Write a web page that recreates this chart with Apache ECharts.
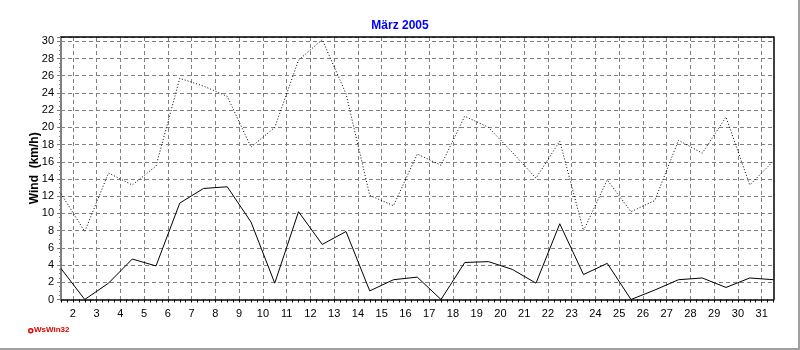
<!DOCTYPE html>
<html>
<head>
<meta charset="utf-8">
<script src="https://cdn.jsdelivr.net/npm/echarts@6/dist/echarts.min.js"></script>
<style>
html,body{margin:0;padding:0;background:#fff;}
#c{width:800px;height:350px;}
</style>
</head>
<body>
<div id="c"></div>
<script>
// Data points sit at the day boundaries (1.5 .. 31.5)
const xPositions = [1.5,2.5,3.5,4.5,5.5,6.5,7.5,8.5,9.5,10.5,11.5,12.5,13.5,14.5,15.5,16.5,17.5,18.5,19.5,20.5,21.5,22.5,23.5,24.5,25.5,26.5,27.5,28.5,29.5,30.5,31.5];
const windAvg = [3.6,0.0,1.9,4.7,3.9,11.2,12.9,13.1,9.0,1.9,10.2,6.4,7.9,1.0,2.3,2.6,0.0,4.3,4.4,3.5,1.9,8.8,2.9,4.2,0.0,1.1,2.3,2.5,1.4,2.5,2.3];
const windMax = [12.3,7.9,14.7,13.3,15.5,25.7,24.8,23.6,17.7,20.0,27.8,30.2,23.9,12.1,10.9,16.9,15.6,21.3,20.0,17.1,14.1,18.4,8.0,13.9,10.2,11.5,18.5,17.0,21.2,13.3,16.1];
const xTickLabels = [2,3,4,5,6,7,8,9,10,11,12,13,14,15,16,17,18,19,20,21,22,23,24,25,26,27,28,29,30,31];
const yTickLabels = [0,2,4,6,8,10,12,14,16,18,20,22,24,26,28,30];
const titleText = 'März 2005';
const yName = 'Wind  (km/h)';

const font = 'Liberation Sans, Arial, sans-serif';
const chart = echarts.init(document.getElementById('c'), null, {renderer:'canvas'});
const option = {
  backgroundColor: '#ffffff',
  animation: false,
  title: {
    text: titleText, left: 'center', top: 15,
    textStyle: {color:'#0000ff', fontSize:12, fontWeight:'bold', fontFamily:font}
  },
  grid: {left:61, right:26.5, top:37, bottom:50.5, containLabel:false},
  xAxis: [
    {
      type:'value', position:'bottom', min:1.5, max:31.5, interval:0.25,
      axisLine:{show:true, lineStyle:{color:'#404040', width:2, type:[1,1]}},
      axisTick:{show:true, length:3, lineStyle:{color:'#000', width:1}},
      axisLabel:{customValues:xTickLabels, margin:9, color:'#000', fontSize:11, fontFamily:font},
      splitLine:{show:false}
    },
    {
      type:'value', position:'top', min:1.5, max:31.5,
      axisLine:{show:true, onZero:false, lineStyle:{color:'#000', width:1.5}},
      axisTick:{show:false, customValues:xTickLabels},
      axisLabel:{show:false},
      splitLine:{show:true, lineStyle:{color:'#808080', width:1, type:[4,3]}}
    }
  ],
  yAxis: [
    {
      type:'value', position:'left', min:0, max:30.5, interval:2,
      name: yName, nameLocation:'middle', nameGap:20, nameRotate:90, nameMoveOverlap:false,
      nameTextStyle:{color:'#000', fontSize:12, fontWeight:'bold', fontFamily:font},
      axisLine:{show:true, onZero:false, lineStyle:{color:'#808080', width:2}},
      axisTick:{show:true, length:4, lineStyle:{color:'#808080'}},
      minorTick:{show:true, splitNumber:4, length:2, lineStyle:{color:'#808080'}},
      axisLabel:{customValues:yTickLabels, margin:7, color:'#000', fontSize:11, fontFamily:font},
      splitLine:{show:true, lineStyle:{color:'#808080', width:1, type:[4,3]}}
    },
    {
      type:'value', position:'right', min:0, max:30.5,
      axisLine:{show:true, onZero:false, lineStyle:{color:'#000', width:1.5}},
      axisTick:{show:false}, axisLabel:{show:false}, splitLine:{show:false}
    }
  ],
  series: [
    {
      name:'Max', type:'line', xAxisIndex:0, yAxisIndex:0,
      data: xPositions.map((x,i)=>[x, windMax[i]]),
      symbol:'none', lineStyle:{color:'#000', width:1, type:[1,2]}
    },
    {
      name:'Mittel', type:'line', xAxisIndex:0, yAxisIndex:0,
      data: xPositions.map((x,i)=>[x, windAvg[i]]),
      symbol:'none', lineStyle:{color:'#000', width:1}
    }
  ],
  graphic: [
    {type:'circle', left:28, top:328, shape:{r:2}, style:{fill:'#fff', stroke:'#e00000', lineWidth:1.5}},
    {type:'text', left:34, top:326, style:{text:'WsWin32', fill:'#e00000', font:'bold 8px ' + font}},
    {type:'line', shape:{x1:799, y1:0, x2:799, y2:350}, style:{stroke:'#a0a0a0', lineWidth:2}},
    {type:'line', shape:{x1:0, y1:349, x2:800, y2:349}, style:{stroke:'#a0a0a0', lineWidth:2}}
  ]
};
chart.setOption(option);
</script>
</body>
</html>
